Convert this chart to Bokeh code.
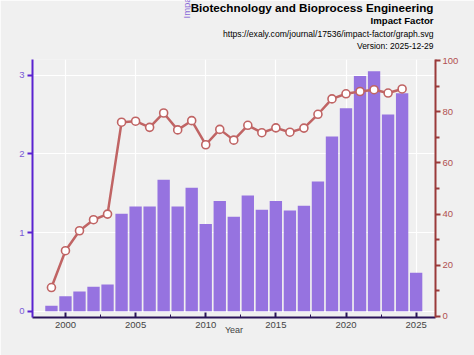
import math
from bokeh.plotting import figure
from bokeh.models import Range1d, LinearAxis, Label, Title, SingleIntervalTicker, FixedTicker, ColumnDataSource
from bokeh.embed import file_html
from bokeh.resources import INLINE

years = list(range(1999, 2026))
impact_factor = [0.07, 0.19, 0.25, 0.31, 0.34, 1.24, 1.33, 1.33, 1.67, 1.33, 1.57, 1.11,
                 1.40, 1.20, 1.47, 1.29, 1.40, 1.28, 1.34, 1.65, 2.22, 2.58, 2.99, 3.05,
                 2.50, 2.77, 0.49]
line_years = list(range(1999, 2025))
percentile = [11.3, 25.7, 33.5, 37.8, 40.0, 75.9, 76.3, 73.9, 79.5, 72.9, 76.5, 67.1,
              73.1, 68.9, 74.7, 71.8, 73.7, 72.0, 73.6, 79.0, 85.0, 87.0, 87.9, 88.6,
              87.3, 88.9]

title = "Biotechnology and Bioprocess Engineering"
subtitle = "Impact Factor"
url = "https://exaly.com/journal/17536/impact-factor/graph.svg"
version = "Version: 2025-12-29"

BG = "#f0f0f0"
FONT = "Liberation Sans"

p = figure(width=474, height=355, x_range=Range1d(1997.65, 2026.38),
           y_range=Range1d(-0.08, 3.20), output_backend="svg", toolbar_location=None,
           min_border_left=32, min_border_right=39, min_border_top=0, min_border_bottom=38,
           background_fill_color=BG, border_fill_color=BG, outline_line_color=None)
p.extra_y_ranges = {"pct": Range1d(-0.4, 100.4)}

bars = ColumnDataSource(dict(x=years, top=impact_factor))
p.vbar(x="x", top="top", bottom=0, width=0.88, source=bars, fill_color="#9673e0",
       line_color=None)

ln = ColumnDataSource(dict(x=line_years, y=percentile))
p.line(x="x", y="y", source=ln, y_range_name="pct", line_color="#c06464", line_width=2.5)
p.scatter(x="x", y="y", source=ln, y_range_name="pct", size=8, fill_color="white",
          line_color="#c06464", line_width=1.6)

# x axis
xa = p.xaxis[0]
xa.ticker = SingleIntervalTicker(interval=5, num_minor_ticks=2)
xa.axis_line_color = "#2a1458"
xa.axis_line_width = 2
xa.major_tick_in = 5
xa.major_tick_out = 0
xa.minor_tick_in = 3
xa.minor_tick_out = 0
xa.major_tick_line_color = "#2a1458"
xa.minor_tick_line_color = "#2a1458"
xa.major_tick_line_width = 2
xa.major_label_text_font = FONT
xa.major_label_text_font_size = "9.5px"
xa.major_label_text_color = "#444444"
xa.major_label_standoff = 4
xa.axis_label = "Year"
xa.axis_label_text_font = FONT
xa.axis_label_text_font_size = "9px"
xa.axis_label_text_font_style = "normal"
xa.axis_label_text_color = "#444444"
xa.axis_label_standoff = -6

# left axis
ya = p.yaxis[0]
ya.ticker = FixedTicker(ticks=[0, 1, 2, 3])
ya.axis_line_color = "#5a22d0"
ya.axis_line_width = 2
ya.major_tick_in = 0
ya.major_tick_out = 5
ya.minor_tick_line_color = None
ya.major_tick_line_color = "#5a22d0"
ya.major_tick_line_width = 2
ya.major_label_text_font = FONT
ya.major_label_text_font_size = "9.5px"
ya.major_label_text_color = "#7a5ad6"
ya.major_label_standoff = 3

# right axis
ra = LinearAxis(y_range_name="pct", ticker=FixedTicker(ticks=[0, 20, 40, 60, 80, 100],
                                                      minor_ticks=[10, 30, 50, 70, 90]))
ra.axis_line_color = "#9a3a3a"
ra.axis_line_width = 2
ra.major_tick_in = 0
ra.major_tick_out = 5
ra.minor_tick_in = 0
ra.minor_tick_out = 4
ra.major_tick_line_color = "#9a3a3a"
ra.minor_tick_line_color = "#9a3a3a"
ra.major_tick_line_width = 2
ra.minor_tick_line_width = 2
ra.major_label_text_font = FONT
ra.major_label_text_font_size = "9.5px"
ra.major_label_text_color = "#b05050"
ra.major_label_standoff = 2
p.add_layout(ra, "right")

p.xgrid.grid_line_color = "white"
p.xgrid.grid_line_width = 1.2
p.ygrid.grid_line_color = "white"
p.ygrid.grid_line_width = 1.2

# header titles: first added is closest to the frame
def ttl(text, size, bold=False, standoff=0.0):
    p.add_layout(Title(text=text, align="right", offset=2, standoff=standoff,
                       text_font=FONT, text_font_size=size,
                       text_font_style="bold" if bold else "normal",
                       text_color="black"), "above")

ttl(" ", "1px", standoff=7.4)          # spacing between header and plot frame
ttl(version, "8.5px", standoff=-4.5)
ttl(url, "8.6px", standoff=3)
ttl(subtitle, "9.6px", bold=True, standoff=0)
ttl(title, "11.7px", bold=True, standoff=-3)

# rotated, partly hidden axis title near the top (as in the reference)
p.add_layout(Label(x=181, y=299, x_units="screen", y_units="screen", text="Impact Factor",
                   text_font=FONT, text_font_size="9.5px", text_color="#8a6ad8",
                   text_align="left", text_baseline="middle", angle=math.pi / 2),
             "left")

open("out.html", "w").write(file_html(p, INLINE))
